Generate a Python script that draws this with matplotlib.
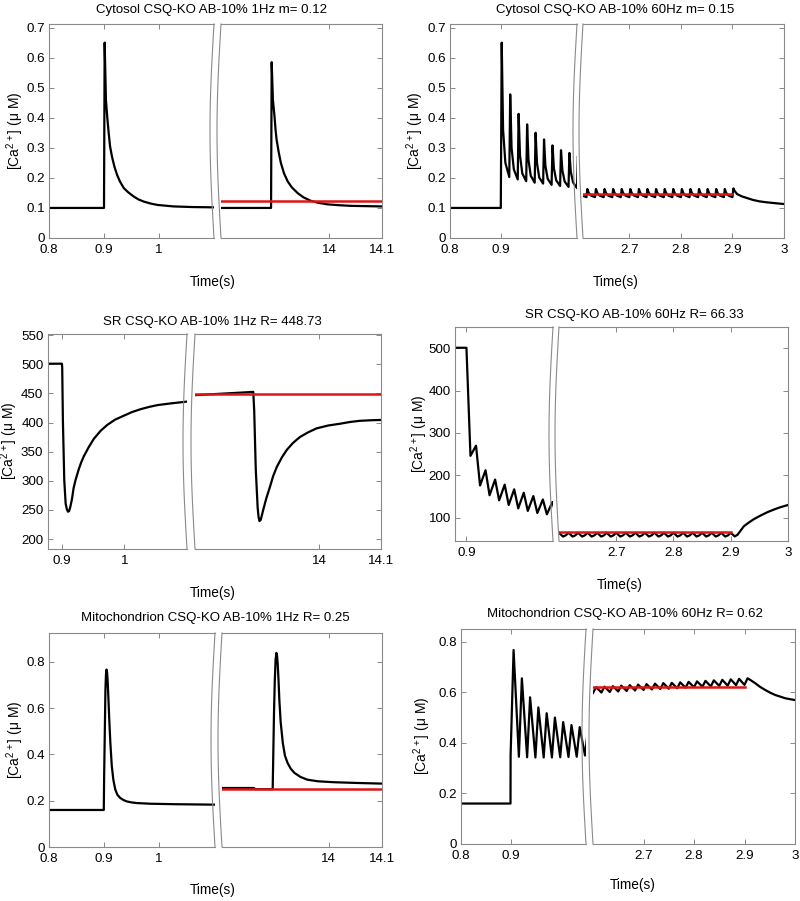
import matplotlib
matplotlib.use('Agg')
import matplotlib.pyplot as plt
import numpy as np
from matplotlib.lines import Line2D

plt.rcParams['font.family'] = ['Liberation Sans', 'DejaVu Sans']
plt.rcParams['mathtext.fontset'] = 'custom'
plt.rcParams['mathtext.rm'] = 'Liberation Sans'

# ---- data ----
# stimulus times for the 60 Hz runs
stim_l = [0.9, 0.9167, 0.9333, 0.95, 0.9667, 0.9833, 1.0, 1.0167, 1.0333, 1.05]
stim_r = [2.6, 2.6167, 2.6333, 2.65, 2.6667, 2.6833, 2.7, 2.7167, 2.7333, 2.75,
          2.7667, 2.7833, 2.8, 2.8167, 2.8333, 2.85, 2.8667, 2.8833, 2.9]

# cytosol 1 Hz
cyt1_lt = [0.8, 0.9, 0.9012, 0.9035, 0.906, 0.9085, 0.911, 0.9146, 0.919, 0.9238, 0.929, 0.936,
           0.944, 0.954, 0.963, 0.9726, 0.984, 0.997, 1.027, 1.06, 1.1]
cyt1_lv = [0.100, 0.100, 0.650, 0.460, 0.400, 0.350, 0.305, 0.270, 0.237, 0.210, 0.188, 0.166,
           0.152, 0.138, 0.128, 0.121, 0.115, 0.110, 0.105, 0.103, 0.102]
cyt1_rt = [13.796, 13.8905, 13.8917, 13.894, 13.897, 13.899, 13.901, 13.905, 13.909, 13.915, 13.922,
           13.93, 13.941, 13.952, 13.965, 13.98, 13.997, 14.02, 14.041, 14.07, 14.1]
cyt1_rv = [0.100, 0.100, 0.585, 0.460, 0.405, 0.360, 0.327, 0.285, 0.250, 0.215, 0.188,
           0.168, 0.149, 0.135, 0.124, 0.117, 0.112, 0.109, 0.107, 0.106, 0.105]
cyt1_mean = 0.122

# cytosol 60 Hz
cyt60_base_t = [0.8, 0.9]
cyt60_base_v = [0.100, 0.100]
cyt60_l_pre = [0.100, 0.203, 0.195, 0.189, 0.184, 0.181, 0.177, 0.173, 0.170, 0.166]
cyt60_l_peak = [0.650, 0.478, 0.413, 0.378, 0.350, 0.328, 0.308, 0.292, 0.283, 0.272]
cyt60_l_mid = [0.360, 0.300, 0.275, 0.260, 0.250, 0.240, 0.232, 0.225, 0.220, 0.215]
cyt60_l_late = [0.250, 0.228, 0.215, 0.207, 0.201, 0.197, 0.192, 0.188, 0.185, 0.182]
cyt60_r_pre = [0.136, 0.136, 0.136, 0.136, 0.136, 0.136, 0.136, 0.136, 0.136, 0.136,
               0.136, 0.136, 0.136, 0.136, 0.136, 0.136, 0.136, 0.136, 0.136]
cyt60_r_peak = [0.163, 0.163, 0.163, 0.163, 0.163, 0.163, 0.163, 0.163, 0.163, 0.163,
                0.163, 0.163, 0.163, 0.163, 0.163, 0.163, 0.163, 0.163, 0.165]
cyt60_r_mid = [0.150, 0.150, 0.150, 0.150, 0.150, 0.150, 0.150, 0.150, 0.150, 0.150,
               0.150, 0.150, 0.150, 0.150, 0.150, 0.150, 0.150, 0.150, 0.156]
cyt60_r_late = [0.141, 0.141, 0.141, 0.141, 0.141, 0.141, 0.141, 0.141, 0.141, 0.141,
                0.141, 0.141, 0.141, 0.141, 0.141, 0.141, 0.141, 0.141, 0.146]
cyt60_tail_t = [2.919, 2.93, 2.939, 2.952, 2.965, 2.982, 3.0]
cyt60_tail_v = [0.138, 0.132, 0.127, 0.122, 0.119, 0.116, 0.113]
cyt60_mean = 0.147

# SR 1 Hz
sr1_lt = [0.877, 0.9, 0.9005, 0.9016, 0.9038, 0.906, 0.908, 0.9097, 0.9115, 0.9134, 0.916, 0.9188,
          0.922, 0.927, 0.931, 0.935, 0.943, 0.951, 0.962, 0.9726, 0.985, 0.9995, 1.012, 1.026,
          1.04, 1.053, 1.075, 1.1]
sr1_lv = [501, 501, 495, 404, 301, 261, 251, 247, 248, 255, 268, 288,
          302, 320, 332, 342, 358, 372, 386, 396, 405, 412, 418, 423,
          427, 430, 433, 436]
sr1_rt = [13.8, 13.894, 13.8955, 13.898, 13.901, 13.9025, 13.904, 13.906, 13.91, 13.915, 13.921,
          13.926, 13.932, 13.94, 13.948, 13.958, 13.969, 13.982, 13.996, 14.015, 14.034, 14.05,
          14.066, 14.085, 14.1]
sr1_rv = [447, 452.6, 420, 320, 255, 238, 231, 233, 250, 270, 290,
          308, 324, 340, 353, 365, 375, 383, 390, 395, 398, 401,
          403, 404, 404.5]
sr1_mean = 448.73

# SR 60 Hz
sr60_base_t = [0.88, 0.9]
sr60_base_v = [501, 501]
sr60_l_peak = [500, 270, 212, 190, 178, 167, 159, 151, 143, 137]
sr60_l_trough = [246, 176, 153, 141, 130, 122, 116, 111, 108, 104]
sr60_r_peak = [64.5, 64.5, 64.5, 64.5, 64.5, 64.5, 64.5, 64.5, 64.5, 64.5,
               64.5, 64.5, 64.5, 64.5, 64.5, 64.5, 64.5, 64.5, 64.5]
sr60_r_trough = [55.5, 55.5, 55.5, 55.5, 55.5, 55.5, 55.5, 55.5, 55.5, 55.5,
                 55.5, 55.5, 55.5, 55.5, 55.5, 55.5, 55.5, 55.5, 55.8]
sr60_r_rise = [58.5, 58.5, 58.5, 58.5, 58.5, 58.5, 58.5, 58.5, 58.5, 58.5,
               58.5, 58.5, 58.5, 58.5, 58.5, 58.5, 58.5, 58.5, 60.0]
sr60_tail_t = [2.923, 2.932, 2.941, 2.952, 2.964, 2.975, 2.985, 3.0]
sr60_tail_v = [80, 89, 97, 105, 113, 119, 124, 130]
sr60_mean = 66.33

# mitochondrion 1 Hz
mit1_lt = [0.8, 0.9, 0.9006, 0.902, 0.903, 0.904, 0.905, 0.906, 0.907, 0.9085, 0.91, 0.912, 0.9146,
           0.9175, 0.921, 0.925, 0.93, 0.936, 0.942, 0.95, 0.96, 0.985, 1.03, 1.103]
mit1_lv = [0.160, 0.160, 0.300, 0.520, 0.680, 0.745, 0.767, 0.755, 0.720, 0.640, 0.550, 0.450, 0.350,
           0.290, 0.248, 0.225, 0.212, 0.203, 0.197, 0.193, 0.190, 0.187, 0.185, 0.183]
mit1_rt = [13.8, 13.86, 13.862, 13.895, 13.8958, 13.8975, 13.899, 13.9005, 13.902, 13.9033, 13.9045,
           13.906, 13.9075, 13.91, 13.914, 13.918, 13.923, 13.929, 13.936, 13.947, 13.96, 13.98,
           14.01, 14.05, 14.1]
mit1_rv = [0.255, 0.255, 0.250, 0.250, 0.350, 0.580, 0.720, 0.810, 0.839, 0.825, 0.790,
           0.720, 0.637, 0.540, 0.450, 0.395, 0.363, 0.338, 0.320, 0.303, 0.291, 0.284,
           0.280, 0.277, 0.274]
mit1_mean = 0.25

# mitochondrion 60 Hz
mit60_base_t = [0.8, 0.8998]
mit60_base_v = [0.160, 0.160]
mit60_l_pre = [0.350, 0.345, 0.343, 0.342, 0.342, 0.342, 0.343, 0.344, 0.345, 0.350]
mit60_l_peak = [0.767, 0.655, 0.580, 0.540, 0.517, 0.500, 0.482, 0.470, 0.462, 0.455]
mit60_r_pre = [0.597, 0.599, 0.601, 0.603, 0.605, 0.607, 0.609, 0.611, 0.613, 0.614,
               0.616, 0.618, 0.620, 0.622, 0.623, 0.625, 0.626, 0.628, 0.629]
mit60_r_peak = [0.620, 0.622, 0.624, 0.626, 0.628, 0.630, 0.632, 0.634, 0.636, 0.637,
                0.639, 0.641, 0.643, 0.645, 0.647, 0.649, 0.651, 0.653, 0.655]
mit60_tail_t = [2.912, 2.921, 2.931, 2.941, 2.951, 2.961, 2.981, 3.0]
mit60_tail_v = [0.648, 0.636, 0.621, 0.609, 0.598, 0.589, 0.576, 0.569]
mit60_mean = 0.62

titles = ['Cytosol CSQ-KO AB-10% 1Hz m= 0.12', 'Cytosol CSQ-KO AB-10% 60Hz m= 0.15',
          'SR CSQ-KO AB-10% 1Hz R= 448.73', 'SR CSQ-KO AB-10% 60Hz R= 66.33',
          'Mitochondrion CSQ-KO AB-10% 1Hz R= 0.25', 'Mitochondrion CSQ-KO AB-10% 60Hz R= 0.62']


def cycles(times, vals, offs):
    # one stimulus k gives points (t_k + offs[j], vals[j][k])
    t, v = [], []
    for k, tk in enumerate(times):
        for o, vv in zip(offs, vals):
            t.append(tk + o)
            v.append(vv[k])
    return t, v


W, H = 800, 901
FRAME = '#8a8a8a'
RED = '#e01414'
fig = plt.figure(figsize=(8, 9.01), dpi=100)


def add_ax(x0, x1, y0, y1):
    return fig.add_axes([x0 / W, 1 - y1 / H, (x1 - x0) / W, (y1 - y0) / H])


def fmt(v):
    return '%g' % v


def broken(lrect, rrect, lxlim, rxlim, ylim, yticks, lxt, rxt):
    axl = add_ax(*lrect)
    axr = add_ax(*rrect)
    for ax, xl, xt in ((axl, lxlim, lxt), (axr, rxlim, rxt)):
        ax.set_xlim(xl)
        ax.set_ylim(ylim)
        ax.set_xticks(xt)
        ax.set_xticklabels([fmt(v) for v in xt])
        ax.set_yticks(yticks)
        ax.tick_params(direction='in', length=3.5, width=0.7, color=FRAME,
                       labelsize=9.6, pad=3, top=True)
        ax.tick_params(axis='x', pad=4.6)
        for s in ax.spines.values():
            s.set_color(FRAME)
            s.set_linewidth(0.8)
    axl.set_yticklabels([fmt(v) for v in yticks])
    axl.spines['right'].set_visible(False)
    axr.spines['left'].set_visible(False)
    axl.tick_params(axis='y', left=True, right=False)
    axr.tick_params(axis='y', left=False, right=True, labelleft=False)
    s = np.linspace(0, 1, 60)
    for xe, top, bot in ((lrect[1], lrect[2], lrect[3]), (rrect[0], rrect[2], rrect[3])):
        xs = xe - 4 * np.sin(np.pi * s)
        ys = top + s * (bot - top)
        fig.add_artist(Line2D(xs / W, 1 - ys / H, color=FRAME, lw=0.8))
    return axl, axr


def labels(i, title_xy, xlab_xy, ylab_xy):
    fig.text(title_xy[0] / W, 1 - title_xy[1] / H, titles[i], ha='center', va='center', fontsize=9.5)
    fig.text(xlab_xy[0] / W, 1 - xlab_xy[1] / H, 'Time(s)', ha='center', va='center', fontsize=9.8)
    fig.text(ylab_xy[0] / W, 1 - ylab_xy[1] / H, r'[Ca$^{\mathrm{2+}}$] (μ M)', ha='center', va='center',
             fontsize=10, rotation=90)


LW = 1.6
RLW = 1.8

# ---- panel 1: cytosol 1 Hz ----
y01 = [0, 0.1, 0.2, 0.3, 0.4, 0.5, 0.6, 0.7]
axl, axr = broken((49, 214, 24, 238), (221, 382, 24, 238), (0.8, 1.1), (13.796, 14.1),
                  (0, 0.712), y01, [0.8, 0.9, 1], [14, 14.1])
axl.plot(cyt1_lt, cyt1_lv, color='k', lw=LW)
axr.plot(cyt1_rt, cyt1_rv, color='k', lw=LW)
axr.plot([13.796, 14.1], [cyt1_mean, cyt1_mean], color=RED, lw=RLW, zorder=3)
labels(0, (212, 10), (213, 282), (15, 131))

# ---- panel 2: cytosol 60 Hz ----
axl, axr = broken((450, 577, 24, 238), (583, 784, 24, 238), (0.8, 1.05), (2.61, 3.0),
                  (0, 0.712), y01, [0.8, 0.9], [2.7, 2.8, 2.9, 3])
t, v = cycles(stim_l, [cyt60_l_pre, cyt60_l_peak, cyt60_l_mid, cyt60_l_late], [0, 0.0018, 0.0045, 0.009])
axl.plot(cyt60_base_t + t, cyt60_base_v + v, color='k', lw=LW)
t, v = cycles(stim_r, [cyt60_r_pre, cyt60_r_peak, cyt60_r_mid, cyt60_r_late], [0, 0.0018, 0.0045, 0.009])
axr.plot(t + cyt60_tail_t, v + cyt60_tail_v, color='k', lw=LW)
axr.plot([2.61, 2.9], [cyt60_mean, cyt60_mean], color=RED, lw=RLW, zorder=3)
labels(1, (615, 10), (616, 282), (415, 131))

# ---- panel 3: SR 1 Hz ----
axl, axr = broken((47.5, 187, 334, 549), (195, 381, 334, 549), (0.877, 1.1), (13.8, 14.1),
                  (183, 552), [200, 250, 300, 350, 400, 450, 500, 550], [0.9, 1], [14, 14.1])
axl.plot(sr1_lt, sr1_lv, color='k', lw=LW)
axr.plot(sr1_rt, sr1_rv, color='k', lw=LW)
axr.plot([13.8, 14.1], [sr1_mean, sr1_mean], color=RED, lw=RLW, zorder=3)
labels(2, (212, 322), (213, 593), (9, 441))

# ---- panel 4: SR 60 Hz ----
axl, axr = broken((455, 553, 327, 541), (559, 788, 327, 541), (0.88, 1.051), (2.6, 3.0),
                  (45, 550), [100, 200, 300, 400, 500], [0.9], [2.7, 2.8, 2.9, 3])
t, v = cycles(stim_l, [sr60_l_peak, sr60_l_trough], [0, 0.007])
axl.plot(sr60_base_t + t, sr60_base_v + v, color='k', lw=LW)
t, v = cycles(stim_r, [sr60_r_peak, sr60_r_trough, sr60_r_rise], [0, 0.007, 0.012])
axr.plot(t + sr60_tail_t, v + sr60_tail_v, color='k', lw=LW)
axr.plot([2.6, 2.9], [sr60_mean, sr60_mean], color=RED, lw=RLW, zorder=3)
labels(3, (634, 315), (620, 585), (419, 434))

# ---- panel 5: mitochondrion 1 Hz ----
y08 = [0, 0.2, 0.4, 0.6, 0.8]
axl, axr = broken((49, 215, 633, 847), (222, 382, 633, 847), (0.8, 1.103), (13.8, 14.1),
                  (0, 0.925), y08, [0.8, 0.9, 1], [14, 14.1])
axl.plot(mit1_lt, mit1_lv, color='k', lw=LW)
axr.plot(mit1_rt, mit1_rv, color='k', lw=LW)
axr.plot([13.8, 14.1], [mit1_mean, mit1_mean], color=RED, lw=RLW, zorder=3)
labels(4, (215, 618), (213, 890), (15, 740))

# ---- panel 6: mitochondrion 60 Hz ----
axl, axr = broken((461, 586, 629, 844), (593, 795, 629, 844), (0.8, 1.052), (2.6, 3.0),
                  (0, 0.85), y08, [0.8, 0.9], [2.7, 2.8, 2.9, 3])
t, v = cycles(stim_l, [mit60_l_pre, mit60_l_peak], [0, 0.006])
axl.plot(mit60_base_t + t, mit60_base_v + v, color='k', lw=LW)
t, v = cycles(stim_r, [mit60_r_pre, mit60_r_peak], [0, 0.006])
axr.plot(t + mit60_tail_t, v + mit60_tail_v, color='k', lw=LW)
axr.plot([2.6, 2.9], [mit60_mean, mit60_mean], color=RED, lw=RLW, zorder=3)
labels(5, (625, 614), (633, 885), (422, 736))

fig.savefig('out.png', dpi=100)
